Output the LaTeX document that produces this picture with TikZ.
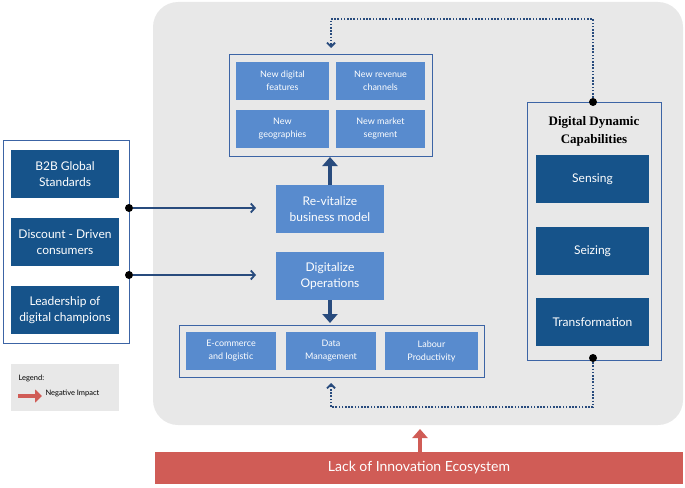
\documentclass[tikz,border=0pt]{standalone}
\usepackage{fontspec}
\setmainfont{Lato}
\newfontfamily\titlefont{Liberation Serif}
\usetikzlibrary{arrows.meta, positioning}
\definecolor{darkbox}{RGB}{22,83,138}
\definecolor{lightbox}{RGB}{88,139,206}
\definecolor{frameblue}{RGB}{60,100,165}
\definecolor{arrowblue}{RGB}{40,75,125}
\definecolor{panel}{RGB}{232,232,232}
\definecolor{impact}{RGB}{208,92,86}
\tikzset{
  dark/.style={rectangle, fill=darkbox, text=white, minimum width=108pt, minimum height=48pt, align=center, font=\fontsize{12}{16}\selectfont},
  light/.style={rectangle, fill=lightbox, text=white, minimum height=38pt, align=center, font=\fontsize{9}{13}\selectfont},
  mid/.style={rectangle, fill=lightbox, text=white, minimum width=108pt, minimum height=48pt, align=center, font=\fontsize{12}{16}\selectfont},
  frame/.style={draw=frameblue, line width=0.8pt},
  thin arrow/.style={-{Straight Barb[length=4pt,width=9pt]}, arrowblue, line width=1.8pt},
  thick arrow/.style={-{Triangle[length=9pt,width=15pt]}, arrowblue, line width=4pt},
  dotted arrow/.style={-{Straight Barb[length=4pt,width=8pt]}, arrowblue, line width=1.8pt, dash pattern=on 1.6pt off 1.6pt},
  dot/.style={circle, fill=black, inner sep=0pt, minimum size=8pt}
}
\begin{document}
\begin{tikzpicture}[x=1pt, y=-1pt]
	\useasboundingbox (0,0) rectangle (685,487);
	\fill[panel, rounded corners=25pt] (153,2) rectangle (683,425);
	% left factors
	\draw[frame] (3,140) rectangle (129,343);
	\node[dark] (b2b) at (65,174) {B2B Global\\Standards};
	\node[dark] (disc) at (65,242) {Discount - Driven\\consumers};
	\node[dark] (lead) at (65,310) {Leadership of\\digital champions};
	\node[dot] (d1) at (129,208) {};
	\node[dot] (d2) at (129,275) {};
	% middle
	\node[mid] (revit) at (330,209) {Re-vitalize\\business model};
	\node[mid] (digit) at (330,276) {Digitalize\\Operations};
	\coordinate (a1) at (256,208);
	\coordinate (a2) at (256,275);
	\draw[thin arrow] (d1) -- (a1);
	\draw[thin arrow] (d2) -- (a2);
	% top group
	\draw[frame] (229,54) rectangle (432,156);
	\node[light, minimum width=93pt] (feat) at (282.5,81) {New digital\\features};
	\node[light, minimum width=89pt] (rev) at (380.5,81) {New revenue\\channels};
	\node[light, minimum width=93pt] (geo) at (282.5,129) {New\\geographies};
	\node[light, minimum width=89pt] (mkt) at (380.5,129) {New market\\segment};
	\coordinate (topc) at (330,157);
	\draw[thick arrow] (revit.north) -- (topc);
	% bottom group
	\draw[frame] (179,325) rectangle (484,377);
	\node[light, minimum width=90pt] (ecom) at (231,351) {E-commerce\\and logistic};
	\node[light, minimum width=90pt] (data) at (331,351) {Data\\Management};
	\node[light, minimum width=93pt] (lab) at (431.5,351) {Labour\\Productivity};
	\coordinate (botc) at (330,323);
	\draw[thick arrow] (digit.south) -- (botc);
	% capabilities
	\draw[frame] (527,102) rectangle (661,360);
	\node[font=\titlefont\bfseries\fontsize{13}{18}\selectfont, align=center] (cap) at (594,131) {Digital Dynamic\\Capabilities};
	\node[dark, minimum width=113pt] (sens) at (592.5,179) {Sensing};
	\node[dark, minimum width=113pt] (seiz) at (592.5,251) {Seizing};
	\node[dark, minimum width=113pt] (trans) at (592.5,322) {Transformation};
	\node[dot] (d3) at (593,102) {};
	\node[dot] (d4) at (593,358) {};
	\coordinate (t1) at (331,48);
	\coordinate (t2) at (331,383);
	\draw[dotted arrow] (d3) |- (331,19) -- (t1);
	\draw[dotted arrow] (d4) |- (331,407) -- (t2);
	% barrier
	\node[rectangle, fill=impact, text=white, minimum width=528pt, minimum height=32pt, font=\fontsize{14}{16}\selectfont] (lack) at (419,468) {Lack of Innovation Ecosystem};
	\coordinate (hit) at (420,429);
	\draw[-{Triangle[length=9pt,width=15pt]}, impact, line width=4.5pt] (lack.north -| hit) -- (hit);
	% legend
	\fill[panel] (11,364) rectangle (119,411);
	\node[anchor=west, font=\fontsize{7.5}{9}\selectfont] (leg) at (15,378) {Legend:};
	\coordinate (l1) at (18,396);
	\coordinate (l2) at (42,396);
	\draw[-{Triangle[length=7pt,width=13pt]}, impact, line width=4pt] (l1) -- (l2);
	\node[anchor=west, font=\fontsize{7.5}{9}\selectfont] (neg) at (42,393) {Negative Impact};
\end{tikzpicture}
\end{document}
